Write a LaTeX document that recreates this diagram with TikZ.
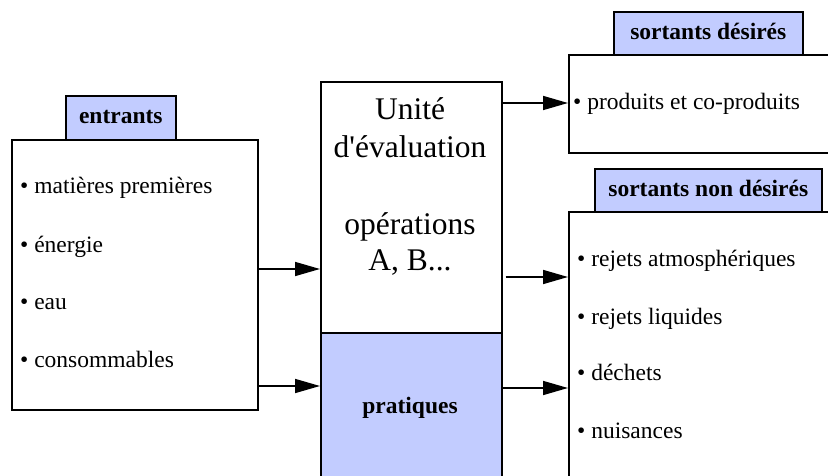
\documentclass[tikz,border=0pt]{standalone}
\usepackage{fontspec}
\setmainfont{Liberation Serif}
\usetikzlibrary{arrows.meta}
\definecolor{lblue}{RGB}{194,204,255}
\font\aposfont="Liberation Serif" at 31.5pt
\tikzset{
  box/.style={draw=black, line width=1.6pt, inner sep=0pt, anchor=north west},
  lbl/.style={box, fill=lblue, font=\fontsize{23.5}{28}\selectfont\bfseries, text height=12pt, text depth=0pt},
  item/.style={anchor=base west, inner sep=0pt, font=\fontsize{23.5}{28}\selectfont},
  big/.style={anchor=base, inner sep=0pt, font=\fontsize{31.5}{37}\selectfont},
  arr/.style={line width=1.6pt, -{Triangle[length=25pt,width=14pt]}}
}
\begin{document}
\begin{tikzpicture}[x=1pt,y=-1pt]
\useasboundingbox (0,0) rectangle (828,476);
\clip (0,0) rectangle (828,476);
% entrants
\node[box, minimum width=246pt, minimum height=270pt] (in) at (11,139) {};
\node[lbl, minimum width=110pt, minimum height=44pt] (inl) at (65,95) {entrants};
\node[item] (i1) at (20,194) {• matières premières};
\node[item] (i2) at (20,252) {• énergie};
\node[item] (i3) at (20,309) {• eau};
\node[item] (i4) at (20,367) {• consommables};
% centre
\node[box, minimum width=181pt, minimum height=251pt] (unit) at (320,81) {};
\node[box, fill=lblue, minimum width=181pt, minimum height=200pt] (prat) at (320,332) {};
\node[big] (u1) at (410,120) {Unité};
\node[big] (u2) at (410,158) {d{\aposfont'}évaluation};
\node[big] (u3) at (410,235) {opérations};
\node[big] (u4) at (410,270) {A, B...};
\node[anchor=base, inner sep=0pt, font=\fontsize{23.5}{28}\selectfont\bfseries] (pt) at (410,413) {pratiques};
% sortants desires
\node[box, minimum width=320pt, minimum height=98pt] (sd) at (568,54) {};
\node[lbl, minimum width=189pt, minimum height=43pt] (sdl) at (613,11) {sortants désirés};
\node[item] (s1) at (573,110) {• produits et co-produits};
% sortants non desires
\node[box, minimum width=320pt, minimum height=320pt] (snd) at (568,211) {};
\node[lbl, minimum width=227pt, minimum height=43pt] (sndl) at (594,168) {sortants non désirés};
\node[item] (n1) at (577,266) {• rejets atmosphériques};
\node[item] (n2) at (577,324) {• rejets liquides};
\node[item] (n3) at (577,380) {• déchets};
\node[item] (n4) at (577,438) {• nuisances};
% arrows
\draw[arr] (in.east |- 0,269) -- (unit.west |- 0,269);
\draw[arr] (in.east |- 0,386) -- (prat.west |- 0,386);
\draw[arr] (unit.east |- 0,103) -- (sd.west |- 0,103);
\draw[arr, shorten <=3pt] (unit.east |- 0,277) -- (snd.west |- 0,277);
\draw[arr] (prat.east |- 0,388) -- (snd.west |- 0,388);
\end{tikzpicture}
\end{document}
